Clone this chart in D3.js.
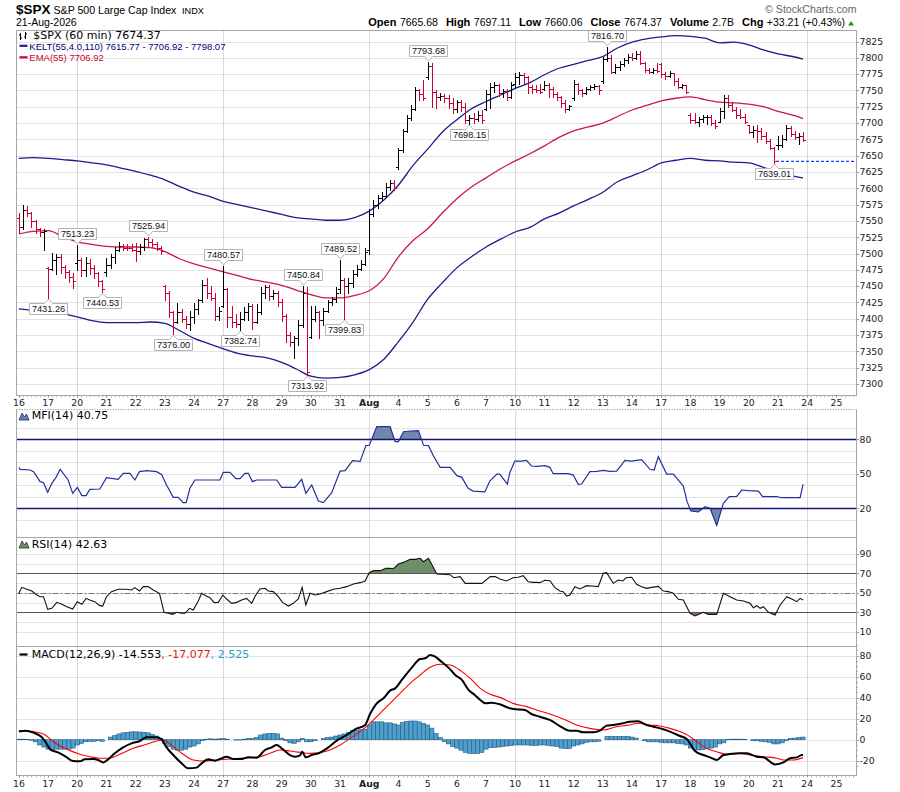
<!DOCTYPE html>
<html>
<head>
<meta charset="utf-8">
<title>$SPX 60 min</title>
<script src="https://cdn.jsdelivr.net/npm/d3@7"></script>
<style>
  html, body { margin: 0; padding: 0; background: #fff; }
  svg { display: block; }
  .ax { font-family: "DejaVu Sans", sans-serif; font-size: 9.3px; fill: #222; }
  .lg { font-family: "DejaVu Sans", sans-serif; font-size: 11px; }
  .lg2 { font-family: "Liberation Sans", Arial, sans-serif; font-size: 9.5px; }
  .hb { font-family: "Liberation Sans", Arial, sans-serif; font-size: 11px; font-weight: bold; }
  .hv { font-family: "Liberation Sans", Arial, sans-serif; font-size: 10.5px; }
  .tag { font-family: "Liberation Sans", Arial, sans-serif; font-size: 9.2px; fill: #111; }
</style>
</head>
<body>
<svg id="chart" width="900" height="792"></svg>
<script>
// ---- values ----
var dayLabels = ["16","17","20","21","22","23","24","27","28","29","30","31","Aug","4","5","6","7","10","11","12","13","14","17","18","19","20","21","24","25"];
var mondayDays = [2, 7, 12, 17, 22, 27];
var BPD = 7; // hourly bars per session

var opens = [
  7555,7540,7566,7562,7550,7538,7533,
  7478,7476,7490,7495,7480,7472,7464,
  7485,7490,7475,7486,7478,7470,7458,
  7472,7482,7494,7506,7512,7509,7508,
  7506,7504,7510,7522,7518,7515,7509,
  7450,7440,7410,7395,7410,7400,7392,
  7402,7415,7428,7452,7440,7432,7405,
  7420,7445,7402,7395,7392,7400,7410,
  7420,7395,7410,7440,7448,7435,7440,
  7425,7405,7375,7365,7370,7390,7440,
  7372,7400,7410,7398,7412,7425,7430,
  7445,7460,7450,7455,7468,7476,7484,
  7505,7560,7575,7585,7588,7602,7608,
  7632,7658,7688,7708,7722,7750,7745,
  7770,7788,7748,7740,7742,7738,7730,
  7722,7732,7725,7705,7708,7706,7712,
  7722,7745,7755,7758,7746,7749,7740,
  7760,7770,7774,7770,7755,7752,7750,
  7752,7758,7752,7745,7740,7730,7722,
  7738,7760,7750,7746,7752,7755,7757,
  7765,7798,7800,7778,7786,7790,7796,
  7802,7800,7806,7792,7781,7779,7782,
  7790,7775,7772,7776,7764,7756,7758,
  7712,7705,7702,7706,7709,7710,7700,
  7702,7718,7738,7728,7720,7712,7710,
  7697,7686,7690,7688,7680,7672,7662,
  7665.68,7666,7676,7692,7683,7678,7680
];
var highs = [
  7562,7574,7573,7564,7551,7539,7537,
  7480,7501,7500,7500,7482,7475,7470,
  7513.23,7493,7495,7492,7482,7472,7460,
  7493,7500,7510,7518,7515,7515,7514,
  7516,7514,7524,7525.94,7522,7517,7512,
  7452,7442,7412,7424,7415,7405,7412,
  7424,7431,7460,7462,7450,7440,7418,
  7480.57,7447,7420,7407,7410,7418,7424,
  7422,7422,7449,7451,7451,7444,7442,
  7430,7407,7380,7374,7398,7450.84,7448,
  7419,7419,7412,7416,7429,7434,7449,
  7489.52,7462,7462,7475,7482,7490,7508,
  7568,7582,7590,7594,7608,7612,7612,
  7662,7691,7712,7727,7755,7752,7766,
  7793.68,7792,7750,7746,7745,7743,7738,
  7735,7736,7730,7712,7716,7718,7720,
  7751,7761,7763,7760,7752,7752,7763,
  7777,7778,7776,7772,7758,7758,7760,
  7765,7762,7755,7748,7741,7735,7728,
  7766,7762,7752,7756,7758,7760,7759,
  7801,7816.70,7804,7790,7795,7800,7806,
  7808,7810,7810,7794,7785,7785,7792,
  7792,7778,7780,7777,7769,7760,7759,
  7715,7715,7710,7712,7713,7712,7705,
  7723,7743,7743,7733,7725,7722,7714,
  7697,7695,7697,7692,7686,7675,7664,
  7680,7682,7697.11,7695,7688,7684,7686
];
var lows = [
  7531,7538,7557,7541,7531,7527,7505,
  7431.26,7474,7468,7470,7462,7457,7447,
  7475,7465,7465,7468,7462,7450,7440.53,
  7466,7478,7485,7504,7506,7505,7504,
  7488,7500,7505,7512,7510,7505,7500,
  7428,7403,7376.00,7394,7395,7386,7383,
  7393,7408,7426,7432,7428,7398,7398,
  7418,7388,7388,7388,7382.74,7398,7398,
  7385,7393,7408,7432,7428,7430,7420,
  7396,7365,7358,7340,7360,7388,7313.92,
  7370,7396,7370,7391,7410,7421,7426,
  7440,7399.83,7439,7449,7465,7475,7482,
  7500,7558,7570,7582,7586,7598,7597,
  7630,7656,7686,7705,7720,7735,7735,
  7768,7725,7723,7735,7732,7723,7715,
  7717,7718,7700,7698.15,7700,7703,7700,
  7720,7723,7748,7742,7740,7735,7738,
  7755,7760,7762,7746,7746,7748,7746,
  7750,7740,7740,7735,7724,7717,7720,
  7736,7744,7742,7744,7750,7752,7745,
  7762,7795,7776,7776,7782,7788,7792,
  7796,7798,7790,7778,7776,7776,7778,
  7771,7768,7770,7758,7754,7754,7746,
  7700,7700,7695,7702,7698,7697,7692,
  7702,7708,7725,7718,7708,7707,7700,
  7685,7678,7671,7676,7670,7660,7639.01,
  7660.06,7664,7674,7680,7676,7668,7672
];
var closes = [
  7540,7566,7562,7550,7538,7533,7535,
  7476,7490,7495,7480,7472,7464,7458,
  7490,7475,7486,7478,7470,7458,7446,
  7482,7494,7506,7512,7509,7508,7506,
  7504,7510,7522,7518,7515,7509,7504,
  7440,7410,7395,7410,7400,7392,7402,
  7415,7428,7452,7440,7432,7405,7412,
  7445,7402,7395,7392,7400,7410,7420,
  7395,7410,7440,7448,7435,7440,7425,
  7405,7375,7365,7370,7390,7440,7318,
  7400,7410,7398,7412,7425,7430,7440,
  7460,7450,7455,7468,7476,7484,7502,
  7560,7575,7585,7588,7602,7608,7600,
  7658,7688,7708,7722,7750,7745,7738,
  7788,7748,7740,7742,7738,7730,7722,
  7732,7725,7705,7708,7706,7712,7704,
  7745,7755,7758,7746,7749,7740,7758,
  7770,7774,7770,7755,7752,7750,7748,
  7758,7752,7745,7740,7730,7722,7726,
  7760,7750,7746,7752,7755,7757,7750,
  7798,7800,7778,7786,7790,7796,7802,
  7800,7806,7792,7781,7779,7782,7780,
  7775,7772,7776,7764,7756,7758,7748,
  7705,7702,7706,7709,7710,7700,7695,
  7718,7738,7728,7720,7712,7710,7702,
  7686,7690,7688,7680,7672,7662,7641.16,
  7666,7676,7692,7683,7678,7680,7674.37
];
var prevClose = 7641.16;

// annotated extremes: bar index and which end of the bar
var tagBars  = [7, 14, 20, 31, 37, 49, 53, 68, 69, 77, 78, 98, 108, 141, 181];
var tagSides = ["low","high","low","high","low","high","low","high","low","high","low","high","low","high","low"];

// Keltner (55,4.0,110) and EMA(55), sampled every half session
var bandBars = [0,3.5,7,10.5,14,17.5,21,24.5,28,31.5,35,38.5,42,45.5,49,52.5,56,59.5,63,66.5,70,73.5,77,80.5,84,87.5,91,94.5,98,101.5,105,108.5,112,115.5,119,122.5,126,129.5,133,136.5,140,143.5,147,150.5,154,157.5,161,164.5,168,171.5,175,178.5,182,185.5,188];
var keltUpper = [7646,7647,7646,7644,7642,7639,7636,7631,7626,7620,7613,7603,7594,7588,7580,7575,7570,7565,7560,7555,7553,7551,7551,7555,7565,7582,7605,7635,7660,7686,7705,7722,7733,7743,7753,7762,7774,7784,7790,7796,7802,7815,7824,7829,7832,7834,7833,7830,7823,7824,7820,7812,7806,7802,7798.07];
var emaLine   = [7530,7534,7535,7526,7518,7514,7511,7510,7510,7509,7503,7492,7484,7478,7472,7466,7460,7456,7451,7444,7437,7432,7432,7436,7443,7462,7495,7520,7538,7562,7584,7602,7616,7630,7642,7653,7665,7678,7688,7694,7700,7710,7720,7727,7734,7738,7740,7736,7732,7731,7729,7725,7718,7712,7706.92];
var keltLower = [7415,7413,7411,7408,7403,7397,7394,7394,7394,7395,7393,7382,7370,7362,7354,7347,7343,7340,7333,7323,7312,7309,7310,7314,7322,7338,7365,7395,7430,7455,7478,7495,7510,7522,7533,7540,7553,7562,7573,7583,7594,7610,7619,7628,7639,7643,7646,7643,7642,7640,7639,7632,7625,7619,7615.77];

// [bar, value]
var mfiSeries = [[0,55.6],[0.3,53.9],[2.7,53.3],[3.5,51.9],[5.1,43.2],[5.9,42.3],[6.9,33.9],[7.9,41.7],[8.9,46.9],[9.9,53.9],[11.8,44.6],[12.9,33],[14,38.2],[15.1,31],[16.1,31],[17,36.5],[19.4,36.8],[21,46.6],[23.8,45.2],[25,50.4],[26.6,50.4],[27.8,44.6],[28.9,51.9],[30.6,52.7],[33,51.9],[34.2,49.5],[35.4,40.3],[37,29.5],[38.2,29.5],[39.4,24.9],[40.1,24.9],[41,37.4],[42.2,44.6],[48.2,44.6],[49,51.3],[50.6,51.3],[52,45.8],[53,45.8],[54.2,50.4],[55,50.4],[56,43.2],[57,44.6],[61.8,44.6],[63,38.2],[66.2,38.2],[67.8,45.2],[68.8,33],[70.2,40.3],[71.8,26.3],[73,24.9],[75,33.6],[77,52.4],[78.2,52.7],[80,61.4],[81.8,60.8],[83.2,74.5],[84,74.8],[85.8,91],[89,91],[90.2,78],[91,78],[92.2,86.6],[93.8,87.2],[95.8,87.5],[97,74.8],[98.2,74.5],[99.4,65.5],[101,55.6],[103.4,55.6],[105,48.4],[106.2,46.9],[107.7,37.4],[108.9,35],[111.7,34.2],[112.9,43.7],[114.6,49.8],[115.3,49.8],[117.1,41.1],[117.7,51],[118.9,61.1],[120.5,61.1],[121.7,61.7],[122.9,56.8],[124.1,56.5],[126.1,57.1],[127.3,55.6],[128.1,50.1],[131.7,50.1],[132.9,48.9],[134.1,40.8],[134.9,41.1],[136.9,51.9],[138.5,52.1],[140.1,53],[141.7,52.1],[143.3,52.4],[145.3,61.7],[146.9,61.1],[149.3,62.3],[151.3,53.9],[152.3,53.3],[153.3,64.9],[155.3,49.8],[156.9,49.8],[159.3,39.4],[160.2,25.8],[161.1,17.7],[162.9,16.8],[164.5,21.4],[165.7,20],[167.3,5.2],[168.9,24.3],[170.3,30.1],[172.1,30.4],[173.3,35.9],[174.9,35.3],[177.3,35],[178.3,30.1],[181.7,30.1],[182.9,29.2],[187.3,29.2],[188,40.75]];

var rsiSeries = [[0,49.5],[0.7,55.6],[1.9,53.6],[3.1,51.8],[4.3,47.7],[5.1,46],[5.9,46],[6.9,33],[7.9,34.1],[9.1,40.2],[10.3,38.2],[11.5,35.8],[12.9,33.4],[14,40.9],[15.1,38.2],[16.1,44.3],[17,42.6],[18.2,40.9],[19.4,36.8],[20.1,36.4],[21,46],[22.2,51.2],[23.8,53.6],[25.8,53.6],[27,52.9],[27.8,55.3],[28.9,51.8],[29.8,56.3],[31,56.3],[32.2,52.9],[33.7,49.5],[34.8,30],[35.8,29],[36.9,27.9],[37.8,30],[39,29],[39.8,29],[40.9,34.1],[41.8,32.4],[43,41.6],[43.8,49.5],[44.9,46.7],[45.8,45],[46.8,39.9],[47.8,40.2],[48.9,47.7],[49.8,43.6],[51,39.2],[52.2,40.2],[53.4,42.6],[54.6,44.3],[55.8,39.2],[56.8,47.7],[57.8,53.9],[59,54.6],[59.8,51.8],[61,51.2],[62.2,46],[63.2,40.2],[64.6,36.4],[65.8,39.2],[67,43.6],[67.9,55.6],[68.8,37.5],[69.8,49.5],[71,47.7],[72.2,48.8],[73.8,51.2],[75.4,53.6],[77,54.6],[78.6,56.3],[80.2,59],[81.8,60.4],[83,62.1],[84,70.6],[85,72.7],[86.6,72.7],[88,75.1],[89,75.1],[89.8,74.7],[91,79.5],[92.6,81.9],[93.8,84.3],[95,84.3],[96.2,85.4],[97,81.9],[98.2,85.4],[100.2,69.3],[103.4,68.6],[104.2,65.5],[105.8,66.6],[107,59.7],[108.2,59.7],[111,59.7],[113,66.6],[114.2,66.6],[115.3,64.2],[116.9,62.1],[118.5,65.5],[119.7,65.9],[120.9,67.6],[122.1,61.4],[123.3,60.7],[124.1,60.7],[124.9,60.4],[126.1,62.8],[127.3,62.4],[128.5,55.3],[129.7,51.8],[130.5,51.2],[131.3,46.7],[132.1,47.7],[133.3,56.3],[134.5,53.9],[136.1,57.3],[137.3,57],[138.9,56.3],[140.1,70],[140.9,70.6],[142.5,59.7],[143.7,63.1],[144.8,62.1],[145.6,65.5],[146.9,65.9],[148.1,58.7],[149.3,56.3],[150.5,54.6],[151.7,55.6],[153.3,56.6],[154.5,51.8],[155.7,51.2],[156.9,49.5],[158.1,43.3],[159.3,42.6],[160.9,29],[162.1,26.2],[164.1,30],[165.3,27.9],[167.3,27.9],[168.9,49.5],[170.5,46],[172.1,42.6],[173.7,41.6],[175.3,39.2],[176.1,34.7],[176.9,36.8],[177.7,34.1],[178.5,35.8],[179.7,30],[181.3,27.2],[182.5,37.5],[184.1,46],[185.3,43.6],[186.5,40.9],[187.3,44.3],[188,42.63]];

var macdSeries = [[0,7.7],[1.5,8.6],[3.5,6.7],[5.5,2.3],[6.7,-4.1],[7.5,-9.2],[9.5,-12.3],[11.5,-16.8],[12.7,-20],[14.6,-20.6],[15.8,-18.7],[17.8,-18.4],[19,-19.3],[20.2,-21.6],[21.4,-18.7],[23,-13],[25,-7.3],[27,-3.5],[29,-1.2],[30.6,2.3],[33,2.3],[34.2,0.3],[35.4,-7.3],[37,-14.6],[39,-22.5],[40.6,-27.3],[42.6,-26.6],[43.8,-22.5],[45.4,-18.7],[47,-20],[48.2,-18.4],[49.8,-16.2],[51.4,-18.4],[53.4,-18.4],[55,-16.8],[57,-17.1],[59,-9.8],[60.6,-7.3],[61.8,-5.1],[63,-8.2],[65,-14.6],[66.2,-16.2],[67.4,-14.9],[67.9,-11.4],[68.8,-16.8],[70.2,-14.6],[71.8,-13],[74.2,-7.3],[76.2,-0.9],[78.6,4.5],[80.6,9.9],[83,14],[84.2,24.5],[85.8,34.6],[87.4,39.4],[89,46.7],[90.2,48.9],[91.8,56.9],[94.2,68.6],[96.2,76.9],[97.4,77.5],[98.6,80.7],[99.8,79.1],[101,75.3],[103.4,67],[104.6,61.6],[106.2,56.9],[107.7,48],[109.3,42.6],[110.9,36.9],[111.9,34.6],[113.3,35.3],[115.3,33.7],[117.7,29.9],[119.3,28.9],[121.3,28.3],[122.9,24.5],[124.9,21.9],[127.3,18.8],[129.7,13],[132.1,8.6],[133.7,8.6],[135.3,7],[137.7,7],[139.3,8.6],[140.9,13.4],[142.5,14],[144.8,15.6],[146.4,17.2],[148.4,17.5],[150.5,14],[152.1,12.4],[154.5,9.9],[156.1,7.7],[158.5,3.5],[160.1,0.7],[162.1,-10.8],[164.1,-14.6],[165.7,-16.8],[167.3,-19.3],[168.9,-14.6],[170.5,-13.6],[172.9,-13],[174.5,-13],[176.9,-16.2],[178.5,-16.8],[181.3,-23.5],[183.3,-21.6],[184.9,-17.7],[186.5,-16.8],[187.7,-14.6],[188,-14.553]];

var signalSeries = [[0,8.6],[3.5,7.7],[5.9,5.4],[8.3,-1.9],[9.9,-6],[12.3,-10.4],[14.6,-13.9],[17,-16.2],[19.4,-17.7],[21.8,-17.7],[24.2,-13.9],[27.4,-8.2],[30.6,-4.4],[33,-1.2],[34.6,-0.3],[37,-6.6],[39.4,-13.9],[41.8,-19.3],[44.2,-20.3],[47.4,-19.3],[51.4,-18.1],[55.4,-17.1],[57.8,-16.2],[60.2,-13],[62.6,-9.8],[65,-10.8],[67.4,-12],[69.8,-13],[72.2,-12.3],[74.6,-9.8],[77,-5.1],[79.4,1.3],[81.8,7.7],[84.2,15.6],[86.6,25.1],[89,34.6],[91.4,44.2],[93.8,53.7],[96.2,61.6],[98.6,68.9],[101,71.8],[103.4,71.1],[106.2,64.8],[108.2,58.4],[110.6,48.9],[113,43.2],[115.3,40.3],[118.5,34.6],[121.7,31.5],[124.1,28.3],[127.3,24.5],[130.5,19.7],[133.7,14],[136.9,10.8],[140.1,9.2],[143.3,12.4],[146.4,14],[148.4,15.6],[151.3,14],[153.7,13],[156.1,10.8],[158.5,7.7],[160.9,2.9],[162.5,-1.9],[164.9,-8.3],[167.3,-11.4],[169.7,-13.9],[172.9,-13],[175.3,-14.6],[178.5,-16.2],[181.7,-17.7],[183.3,-19.3],[185.7,-19.3],[188,-17.077]];

var histVals = [
  0.5,0.5,0.3,-0.5,-2,-5,-7,
  -9,-9,-9,-9,-9,-9,-8,
  -5,-3.5,-2,-1.5,-1.5,-1,-1.5,
  0,2.5,4,5.5,6.5,7,7.5,
  7.5,7.3,7,6.5,5,3.5,1,
  -4,-6.5,-9,-10,-10,-9,-7,
  -6,-4,-1,0.5,0.8,0.5,0.8,
  1,0.5,0,-0.3,-0.3,0.5,1,
  1,2,4.5,5.5,6,6,5.5,
  1.5,-1,-3,-3.5,-2,1,-2,
  -2,-1,0,1,2,2.5,3.5,
  4.5,5.5,7,8.5,9,9.5,10,
  14,17,17,17,16,16,15,
  14,16.5,17.5,17.8,17.8,17,15.5,
  14,11,6,2,-2,-4,-6.6,
  -8,-10,-12,-13,-13,-13,-12,
  -9,-7.5,-7.3,-7,-6.5,-6,-5.5,
  -5,-5,-5,-5,-5.5,-5.5,-5,
  -5,-5.5,-6,-6.5,-8,-8.5,-8.5,
  -6,-5,-4,-2.5,-2,-2,-1.5,
  0,3,3,3,3,3,3,
  2.5,1.5,0,-1,-2,-2,-2,
  -2.5,-3,-3,-3,-3.5,-4,-5,
  -8,-9.5,-9.8,-9.5,-8.5,-8,-7,
  -4,-3,0.3,0.5,0.5,0.5,0.3,
  0,-1,-1,-1.5,-2,-2.5,-4,
  -4,-3,-1,1.3,1.5,2,2.525
];

var priceTicks = [7300,7325,7350,7375,7400,7425,7450,7475,7500,7525,7550,7575,7600,7625,7650,7675,7700,7725,7750,7775,7800,7825];
var mfiTicks = [80, 50, 20];
var rsiTicks = [90, 70, 50, 30, 10];
var macdTicks = [80, 60, 40, 20, 0, -20];
var tenGrid = [10, 20, 30, 40, 50, 60, 70, 80, 90];

var quoteNames = ["Open", "High", "Low", "Close", "Volume", "Chg"];
var quoteValues = ["7665.68", "7697.11", "7660.06", "7674.37", "2.7B", "+33.21 (+0.43%)"];

// ---- layout ----
var svg = d3.select("#chart");
var left = 16.5, right = 856.5;
var P = {top: 30.5, bottom: 395.5},
    M = {top: 409.5, bottom: 537.5},
    R = {top: 537.5, bottom: 646.5},
    D = {top: 646.5, bottom: 775.5};
var RED = "#cc0033", NAVY = "#1c1c8c";

var x  = d3.scaleLinear().domain([0, 196]).range([18.9, 18.9 + 196 * 4.171]);
var yP = d3.scaleLinear().domain([7300, 7825]).range([384, 41.5]);
var yM = d3.scaleLinear().domain([0, 100]).range([531.3, 416.3]);
var yR = d3.scaleLinear().domain([0, 100]).range([641.55, 544.05]);
var yD = d3.scaleLinear().domain([-20, 80]).range([760.7, 655.7]);

var defs = svg.append("defs");
function clip(id, x0, y0, x1, y1) {
  defs.append("clipPath").attr("id", id).append("rect")
    .attr("x", x0).attr("y", y0).attr("width", x1 - x0).attr("height", y1 - y0);
  return "url(#" + id + ")";
}
var cP = clip("cP", left, P.top, right, P.bottom);
var cM = clip("cM", left, M.top, right, M.bottom);
var cR = clip("cR", left, R.top, right, R.bottom);
var cD = clip("cD", left, D.top, right, D.bottom);

function crisp(v) { return Math.round(v) + 0.5; }

function hGrid(values, scale, color) {
  svg.append("g").selectAll("line").data(values).enter().append("line")
    .attr("x1", left).attr("x2", right)
    .attr("y1", function (d) { return crisp(scale(d)); })
    .attr("y2", function (d) { return crisp(scale(d)); })
    .attr("stroke", color || "#e4e4e4");
}
function vGrid(p) {
  svg.append("g").selectAll("line").data(mondayDays).enter().append("line")
    .attr("x1", function (d) { return crisp(x(d * BPD)); })
    .attr("x2", function (d) { return crisp(x(d * BPD)); })
    .attr("y1", p.top).attr("y2", p.bottom)
    .attr("stroke", "#d9d9d9");
}
function frame(p) {
  svg.append("rect").attr("x", left).attr("y", p.top)
    .attr("width", right - left).attr("height", p.bottom - p.top)
    .attr("fill", "none").attr("stroke", "#a6a6a6");
}
function rightLabels(values, scale) {
  var g = svg.append("g");
  g.selectAll("text").data(values).enter().append("text")
    .attr("class", "ax").attr("x", 859.5)
    .attr("y", function (d) { return scale(d) + 3.3; })
    .text(function (d) { return d; });
  g.selectAll("line").data(values).enter().append("line")
    .attr("x1", right).attr("x2", right + 2.5)
    .attr("y1", function (d) { return crisp(scale(d)); })
    .attr("y2", function (d) { return crisp(scale(d)); })
    .attr("stroke", "#999");
}
function ptLine(scale) {
  return d3.line().x(function (d) { return x(d[0]); }).y(function (d) { return scale(d[1]); });
}

// ---- header ----
svg.append("text").attr("x", 16).attr("y", 14)
  .attr("font-family", "Liberation Sans, Arial, sans-serif").attr("font-weight", "bold")
  .attr("font-size", 13.5).text("$SPX");
svg.append("text").attr("x", 53.5).attr("y", 13.8)
  .attr("font-family", "Liberation Sans, Arial, sans-serif").attr("font-size", 10.6)
  .text("S&P 500 Large Cap Index");
svg.append("text").attr("x", 182).attr("y", 13.8)
  .attr("font-family", "Liberation Sans, Arial, sans-serif").attr("font-size", 9.2)
  .text("INDX");
svg.append("text").attr("x", 16).attr("y", 26)
  .attr("font-family", "Liberation Sans, Arial, sans-serif").attr("font-size", 10.5)
  .text("21-Aug-2026");
svg.append("text").attr("x", 856.5).attr("y", 13).attr("text-anchor", "end")
  .attr("font-family", "Liberation Sans, Arial, sans-serif").attr("font-size", 10.6)
  .attr("fill", "#666").text("\u00a9 StockCharts.com");

var hx = 368.3;
quoteNames.forEach(function (n, i) {
  var a = svg.append("text").attr("class", "hb").attr("x", hx).attr("y", 26.3).text(n);
  hx += a.node().getComputedTextLength() + 3.5;
  var b = svg.append("text").attr("class", "hv").attr("x", hx).attr("y", 26.3).text(quoteValues[i]);
  hx += b.node().getComputedTextLength() + 8;
});
svg.append("path").attr("d", "M" + (hx - 5) + ",25.5l3,-4.5l3,4.5z").attr("fill", "#2e8b2e");

// ---- grids and frames ----
hGrid(priceTicks, yP); vGrid(P);
hGrid(tenGrid, yM); vGrid(M);
hGrid(tenGrid, yR); vGrid(R);
hGrid(macdTicks, yD); vGrid(D);

// ---- price panel ----
var bandPts = function (vals) { return bandBars.map(function (b, i) { return [b, vals[i]]; }); };
var smooth = ptLine(yP).curve(d3.curveMonotoneX);
var gLines = svg.append("g").attr("clip-path", cP).attr("fill", "none");
gLines.append("path").attr("d", smooth(bandPts(keltUpper))).attr("stroke", NAVY).attr("stroke-width", 1.3);
gLines.append("path").attr("d", smooth(bandPts(keltLower))).attr("stroke", NAVY).attr("stroke-width", 1.3);
gLines.append("path").attr("d", smooth(bandPts(emaLine))).attr("stroke", "#cc1840").attr("stroke-width", 1.3);

// previous close
svg.append("line").attr("x1", x(26 * BPD) - 2).attr("x2", right)
  .attr("y1", yP(prevClose)).attr("y2", yP(prevClose))
  .attr("stroke", "#1a3cff").attr("stroke-width", 1.2).attr("stroke-dasharray", "3,2");

var bars = closes.map(function (c, i) {
  return {i: i, o: opens[i], h: highs[i], l: lows[i], c: c,
          up: i === 0 ? c >= opens[i] : c >= closes[i - 1]};
});
svg.append("g").attr("clip-path", cP).attr("shape-rendering", "crispEdges")
  .selectAll("path").data(bars).enter().append("path")
  .attr("fill", "none").attr("stroke-width", 1)
  .attr("stroke", function (d) { return d.up ? "#000" : RED; })
  .attr("d", function (d) {
    var xi = crisp(x(d.i));
    var yo = crisp(yP(d.o)), yc = crisp(yP(d.c));
    return "M" + xi + "," + Math.round(yP(d.h)) + "V" + (Math.round(yP(d.l)) + 1) +
           "M" + (xi - 2.5) + "," + yo + "H" + xi +
           "M" + xi + "," + yc + "H" + (xi + 2.5);
  });

// value tags
var gTags = svg.append("g");
tagBars.forEach(function (b, k) {
  var isHigh = tagSides[k] === "high";
  var v = isHigh ? highs[b] : lows[b];
  var cx = crisp(x(b));
  var t = gTags.append("text").attr("class", "tag").attr("text-anchor", "middle")
    .attr("x", cx).text(v.toFixed(2));
  var w = Math.round(t.node().getComputedTextLength() + 5);
  var hw = w / 2, bh = 11, path, mid;
  if (isHigh) {
    var tip = Math.round(yP(v)) - 1, bb = tip - 4.5, tt = bb - bh;
    path = "M" + (cx - hw) + "," + tt + "H" + (cx + hw) + "V" + bb + "H" + (cx + 4) +
           "L" + cx + "," + tip + "L" + (cx - 4) + "," + bb + "H" + (cx - hw) + "Z";
    mid = (tt + bb) / 2;
  } else {
    var tip2 = Math.round(yP(v)) + 1, tt2 = tip2 + 4.5, bb2 = tt2 + bh;
    path = "M" + (cx - hw) + "," + tt2 + "H" + (cx - 4) + "L" + cx + "," + tip2 +
           "L" + (cx + 4) + "," + tt2 + "H" + (cx + hw) + "V" + bb2 + "H" + (cx - hw) + "Z";
    mid = (tt2 + bb2) / 2;
  }
  gTags.insert("path", "text").attr("d", path).attr("fill", "#fff").attr("stroke", "#b4b4b4");
  t.attr("y", mid + 3.3);
});

frame(P);
rightLabels(priceTicks, yP);

// price legend
svg.append("path").attr("d", "M20.5,33v7M19,35h1.5M20.5,38h1.5M25.5,32v7M24,37h1.5M25.5,34h1.5")
  .attr("stroke", "#000").attr("fill", "none");
svg.append("text").attr("class", "lg").attr("x", 33.3).attr("y", 38.7).text("$SPX (60 min) 7674.37");
svg.append("line").attr("x1", 19.5).attr("x2", 27.5).attr("y1", 45.8).attr("y2", 45.8)
  .attr("stroke", NAVY).attr("stroke-width", 2.2);
svg.append("text").attr("class", "lg2").attr("x", 29.3).attr("y", 49.5).attr("fill", "#00007a")
  .text("KELT(55,4.0,110) 7615.77 - 7706.92 - 7798.07");
svg.append("line").attr("x1", 19.5).attr("x2", 27.5).attr("y1", 57.3).attr("y2", 57.3)
  .attr("stroke", RED).attr("stroke-width", 2.2);
svg.append("text").attr("class", "lg2").attr("x", 29.3).attr("y", 60.8).attr("fill", RED)
  .text("EMA(55) 7706.92");

// ---- MFI ----
var mfiArea = function (base) {
  return d3.area().x(function (d) { return x(d[0]); }).y0(yM(base)).y1(function (d) { return yM(d[1]); });
};
var cMhi = clip("cMhi", left, M.top, right, yM(80));
var cMlo = clip("cMlo", left, yM(20), right, M.bottom);
svg.append("path").attr("d", mfiArea(80)(mfiSeries)).attr("fill", "#7088aa").attr("clip-path", cMhi);
svg.append("path").attr("d", mfiArea(20)(mfiSeries)).attr("fill", "#7088aa").attr("clip-path", cMlo);
[80, 20].forEach(function (v) {
  svg.append("line").attr("x1", left).attr("x2", right).attr("y1", crisp(yM(v))).attr("y2", crisp(yM(v)))
    .attr("stroke", "#14147a").attr("stroke-width", 1.3);
});
svg.append("path").attr("d", ptLine(yM)(mfiSeries)).attr("clip-path", cM)
  .attr("fill", "none").attr("stroke", "#22309a").attr("stroke-width", 1.2);
frame(M);
svg.append("line").attr("x1", left).attr("x2", right).attr("y1", M.top).attr("y2", M.top)
  .attr("stroke", "#fff").attr("stroke-width", 1.2);
svg.append("line").attr("x1", left).attr("x2", right).attr("y1", M.top).attr("y2", M.top)
  .attr("stroke", "#888").attr("stroke-dasharray", "1,1.6");
rightLabels(mfiTicks, yM);
svg.append("path").attr("d", "M19,420L22,413L24.5,417L26.5,414L29,420Z")
  .attr("fill", "#6a82a8").attr("stroke", "#1c2a7a").attr("stroke-width", 0.8);
svg.append("text").attr("class", "lg").attr("x", 31.7).attr("y", 419.2).text("MFI(14) 40.75");

// ---- RSI ----
var rsiArea = function (base) {
  return d3.area().x(function (d) { return x(d[0]); }).y0(yR(base)).y1(function (d) { return yR(d[1]); });
};
var cRhi = clip("cRhi", left, R.top, right, yR(70));
var cRlo = clip("cRlo", left, yR(30), right, R.bottom);
svg.append("path").attr("d", rsiArea(70)(rsiSeries)).attr("fill", "#6f8f68").attr("clip-path", cRhi);
svg.append("path").attr("d", rsiArea(30)(rsiSeries)).attr("fill", "#9c5c80").attr("clip-path", cRlo);
[70, 30].forEach(function (v) {
  svg.append("line").attr("x1", left).attr("x2", right).attr("y1", crisp(yR(v))).attr("y2", crisp(yR(v)))
    .attr("stroke", "#555");
});
svg.append("line").attr("x1", left).attr("x2", right).attr("y1", crisp(yR(50))).attr("y2", crisp(yR(50)))
  .attr("stroke", "#777").attr("stroke-dasharray", "6,2,2,2");
svg.append("path").attr("d", ptLine(yR)(rsiSeries)).attr("clip-path", cR)
  .attr("fill", "none").attr("stroke", "#111").attr("stroke-width", 1.1);
frame(R);
rightLabels(rsiTicks, yR);
svg.append("path").attr("d", "M19,548L22,541L24.5,545L26.5,542L29,548Z")
  .attr("fill", "#6f8f68").attr("stroke", "#1e3a1e").attr("stroke-width", 0.8);
svg.append("text").attr("class", "lg").attr("x", 31.7).attr("y", 547.7).text("RSI(14) 42.63");

// ---- MACD ----
svg.append("g").attr("clip-path", cD).selectAll("rect").data(histVals).enter().append("rect")
  .attr("x", function (d, i) { return x(i) - 2.085; }).attr("width", 4.171)
  .attr("y", function (d) { return Math.min(yD(d), yD(0)); })
  .attr("height", function (d) { return Math.abs(yD(d) - yD(0)); })
  .attr("fill", "#4f9fcd").attr("stroke", "#1f5a84").attr("stroke-width", 0.6);
var mline = ptLine(yD).curve(d3.curveMonotoneX);
svg.append("path").attr("d", mline(signalSeries)).attr("clip-path", cD)
  .attr("fill", "none").attr("stroke", "#ff0000").attr("stroke-width", 1.1);
svg.append("path").attr("d", mline(macdSeries)).attr("clip-path", cD)
  .attr("fill", "none").attr("stroke", "#000").attr("stroke-width", 2);
frame(D);
rightLabels(macdTicks, yD);
svg.append("line").attr("x1", 19.5).attr("x2", 27.5).attr("y1", 654.5).attr("y2", 654.5)
  .attr("stroke", "#000").attr("stroke-width", 2.2);
var mt = svg.append("text").attr("class", "lg").attr("x", 31.7).attr("y", 658.3);
mt.append("tspan").attr("fill", "#000").text("MACD(12,26,9) -14.553");
mt.append("tspan").attr("fill", "#ee1111").text(", -17.077");
mt.append("tspan").attr("fill", "#3399cc").text(", 2.525");

// minor ticks on the right edge of the MACD scale
svg.append("g").selectAll("line").data(d3.range(-25, 91, 5)).enter().append("line")
  .attr("x1", right).attr("x2", right + 1.5)
  .attr("y1", function (d) { return crisp(yD(d)); }).attr("y2", function (d) { return crisp(yD(d)); })
  .attr("stroke", "#aaa");

// ---- time axes ----
function timeAxis(y, tickY) {
  var g = svg.append("g");
  g.selectAll("text").data(dayLabels).enter().append("text")
    .attr("class", "ax").attr("text-anchor", "middle")
    .attr("x", function (d, i) { return x(i * BPD); }).attr("y", y)
    .attr("font-weight", function (d) { return d === "Aug" ? "bold" : null; })
    .attr("font-size", function (d) { return d === "Aug" ? 10 : null; })
    .text(function (d) { return d; });
  g.selectAll("line").data(d3.range(0, 201)).enter().append("line")
    .attr("x1", function (d) { return crisp(x(d)); }).attr("x2", function (d) { return crisp(x(d)); })
    .attr("y1", tickY).attr("y2", tickY + 2)
    .attr("stroke", function (d) { return d % BPD === 0 ? "#888" : "#bbb"; });
}
timeAxis(406.2, P.bottom);
timeAxis(786.8, D.bottom);
</script>
</body>
</html>
